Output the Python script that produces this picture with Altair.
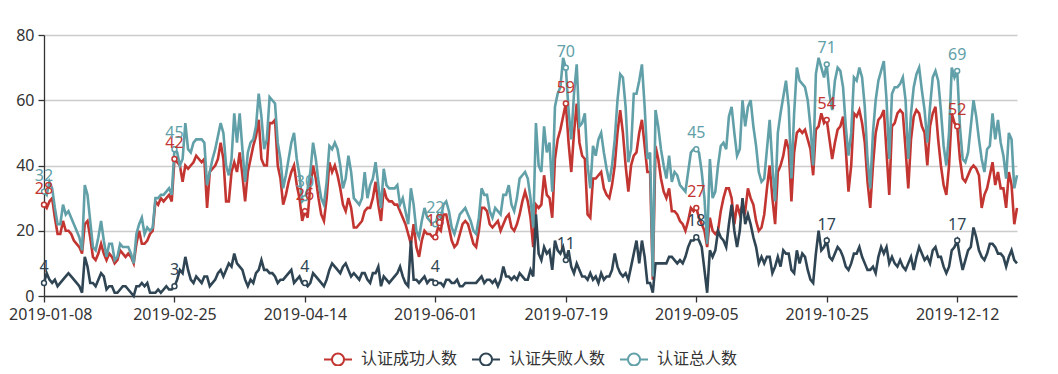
import altair as alt
import pandas as pd

# ---- categories (daily dates, two days missing in the source data) ----
_all = pd.date_range("2019-01-08", periods=361, freq="D").strftime("%Y-%m-%d").tolist()
missing_days = ["2019-10-01", "2019-10-02"]
dates = [d for d in _all if d not in missing_days][:359]
tick_dates = dates[::48]

series_names = ["认证成功人数", "认证失败人数", "认证总人数"]
series_colors = ["#c23531", "#2f4554", "#61a0a8"]

# ---- values ----
success = [
    28,27,29,30,24,19,19,23,20,20, 19,17,16,15,13,22,23,18,12,11, 13,16,13,11,13,12,10,11,14,13,
    12,13,12,10,16,20,16,16,17,19, 20,29,28,30,29,30,31,29,
    42,41,40,35,40,39,40,41,43,42, 41,42,27,38,39,40,42,47,42,29, 29,38,41,38,44,37,29,38,42,46,
    49,54,42,40,40,53,53,54,40,36, 28,31,35,38,40,34,30,23,
    26,24,34,40,36,30,25,23,30,41, 38,40,37,33,28,26,30,27,21,21, 22,23,26,27,27,30,35,28,23,33,
    30,29,29,28,28,26,24,22,19,16, 22,15,12,17,20,19,19,18,
    18,21,20,25,25,21,17,15,16,19, 22,23,22,19,16,15,20,27,27,26, 22,21,22,23,20,22,24,25,21,20,
    22,25,29,32,29,24,15,28,27,28, 37,31,30,24,42,48,51,55,
    59,47,38,50,59,47,43,42,25,24, 36,36,37,38,33,31,30,34,40,50, 57,50,40,32,40,43,44,50,54,46,
    38,38,5,46,42,36,32,30,33,26, 26,25,23,22,20,23,27,26,
    27,24,22,20,15,24,20,19,20,26, 30,33,33,30,22,28,25,28,26,33, 30,28,23,20,21,25,33,40,30,22,
    38,40,43,48,45,29,44,50,51,50, 51,48,45,37,51,52,56,53,
    54,48,42,47,51,52,55,45,32,40, 56,55,57,53,47,35,27,40,50,54, 55,57,44,31,52,53,56,57,56,45,
    33,48,55,57,56,52,50,40,52,56, 58,48,40,34,31,40,56,53,
    52,42,36,35,37,39,40,39,37,27, 31,33,37,41,34,38,33,33,27,38, 34,22,27,
]
failure = [
    4,7,5,4,5,3,4,5,6,7, 6,5,4,3,1,12,9,4,4,3, 5,7,6,2,3,3,1,1,2,3,
    3,2,1,0,3,3,4,3,4,1, 1,1,2,1,2,3,2,2,
    3,5,8,7,12,8,5,4,6,5, 4,6,6,3,4,5,7,8,6,8, 10,9,13,10,9,8,5,3,5,4,
    7,8,11,8,8,7,7,6,4,5, 5,6,7,8,4,5,6,4,
    4,3,4,7,6,5,4,3,5,8, 10,9,8,7,9,10,8,6,7,6, 5,7,7,5,4,7,7,9,3,6,
    5,4,5,6,7,9,6,4,3,17, 5,5,4,5,6,4,5,5,
    4,4,4,3,5,5,4,4,5,3, 3,4,4,4,4,4,5,6,4,5, 5,4,5,3,5,9,6,6,5,6,
    5,7,6,5,5,8,6,25,13,11, 15,13,14,8,17,14,13,15,
    11,14,9,7,10,8,6,6,5,7, 5,6,4,7,5,6,6,8,13,9, 7,6,7,5,9,13,17,10,17,12,
    4,4,1,10,10,10,10,10,12,12, 11,10,11,10,12,15,17,17,
    18,17,15,8,1,14,12,14,20,18, 17,15,22,28,20,15,20,30,22,25, 22,18,15,10,12,10,12,12,7,9,
    12,9,14,13,13,8,7,14,10,13, 12,8,5,4,13,20,14,15,
    17,12,11,13,15,14,12,9,8,10, 13,13,15,12,10,8,8,9,7,12, 15,13,15,10,12,10,9,11,9,8,
    10,12,8,12,15,13,11,12,10,14, 15,12,12,9,7,9,14,15,
    17,12,8,11,14,15,21,18,14,12, 11,13,16,16,15,13,13,12,9,12, 14,11,10,
]
total = [
    32,31,35,33,27,22,22,28,25,26, 24,22,20,18,14,34,31,23,15,14, 18,23,17,12,16,16,11,12,16,15,
    15,15,13,10,19,22,24,19,21,20, 21,30,30,31,31,32,33,31,
    45,44,40,42,53,45,44,47,48,48, 48,47,34,38,42,45,49,53,50,40, 37,42,56,47,56,45,35,44,47,48,
    52,62,55,45,48,61,60,59,47,42, 33,37,42,47,50,42,37,29,
    30,33,38,47,42,35,30,28,35,46, 45,47,45,40,33,36,43,38,30,29, 28,30,38,30,34,36,41,34,27,39,
    34,33,33,33,34,28,30,26,22,33, 28,20,18,23,27,24,23,22,
    22,25,24,28,29,26,21,19,22,25, 26,27,25,23,20,19,24,33,31,31, 26,24,27,26,25,31,31,34,28,26,
    30,36,37,38,36,30,21,53,40,38, 52,44,47,32,58,62,64,73,
    70,57,48,62,71,52,53,56,40,33, 46,43,48,50,44,39,35,40,48,60, 68,67,58,41,45,62,62,66,71,58,
    42,44,6,57,52,45,40,36,43,35, 38,37,34,33,32,38,44,45,
    45,44,38,30,16,42,30,32,40,46, 47,45,55,58,50,43,45,60,52,58, 60,52,46,38,35,36,45,54,40,29,
    50,56,61,66,58,36,56,70,66,65, 64,60,52,40,68,73,70,67,
    71,62,57,66,70,69,64,52,43,50, 67,66,70,67,58,42,33,50,60,66, 69,72,60,42,62,64,64,65,67,60,
    42,56,64,68,70,63,57,47,58,67, 69,66,57,46,40,50,70,67,
    69,52,42,41,44,52,60,55,48,42, 38,45,46,56,48,54,47,43,36,50, 48,33,37,
]

rows = []
for name, vals in zip(series_names, [success, failure, total]):
    for d, v in zip(dates, vals):
        rows.append({"date": d, "value": v, "series": name})
df = pd.DataFrame(rows)

FONT = "Noto Sans"
CJK = "Noto Sans CJK SC"

x_enc = alt.X(
    "date:O",
    scale=alt.Scale(type="point", domain=dates, padding=0),
    axis=alt.Axis(values=tick_dates, labelAngle=0, title=None, grid=False,
                  tickSize=6, labelPadding=4, labelFontSize=16, labelFont=FONT,
                  labelColor="#333", domainColor="#333", tickColor="#333",
                  domainWidth=1.3, tickWidth=1.3,
                  labelFlush=True, labelFlushOffset=35.5, labelBound=False),
)
y_enc = alt.Y(
    "value:Q",
    scale=alt.Scale(domain=[0, 80], nice=False),
    axis=alt.Axis(values=[0, 20, 40, 60, 80], title=None, grid=True, gridColor="#ccc",
                  gridWidth=1.3, tickSize=6, labelPadding=4, labelFontSize=16,
                  labelFont=FONT, labelColor="#333", domainColor="#333",
                  tickColor="#333", domainWidth=1.3, tickWidth=1.3),
)

legend_symbol = ("M-1,0L-0.43,0M0.43,0L1,0M0.43,0A0.43,0.43,0,1,1,-0.43,0"
                 "A0.43,0.43,0,1,1,0.43,0Z")


def color_enc(legend):
    return alt.Color("series:N", scale=alt.Scale(domain=series_names, range=series_colors),
                     sort=series_names, legend=legend)


base = alt.Chart(df)

lines = base.mark_line(strokeWidth=2.6).encode(
    x=x_enc, y=y_enc,
    color=color_enc(alt.Legend(title=None, orient="none", direction="horizontal",
                               legendX=279, legendY=309, columns=3,
                               symbolType=legend_symbol, symbolSize=784,
                               symbolStrokeWidth=2, symbolFillColor="white",
                               labelFont=CJK, labelFontSize=16, labelColor="#333",
                               labelOffset=8, columnPadding=10)),
)

marks_df = base.transform_filter(alt.FieldOneOfPredicate(field="date", oneOf=tick_dates))

points = marks_df.mark_point(shape="circle", size=24, strokeWidth=1.5, opacity=1,
                             filled=False).encode(
    x=x_enc, y=y_enc,
    color=color_enc(None),
    fill=alt.value("white"),
)

labels = marks_df.mark_text(dy=-11, baseline="alphabetic", fontSize=16, font=FONT).encode(
    x=x_enc, y=y_enc, text="value:Q",
    color=color_enc(None),
)

chart = alt.layer(lines, points, labels).resolve_scale(color="independent").properties(
    width=973, height=261,
    padding={"left": 36, "top": 27, "right": 25, "bottom": 70},
    autosize=alt.AutoSizeParams(type="none"),
    background="white",
).configure_view(stroke=None)

chart.save("out.html", embed_options={"renderer": "svg", "actions": False})
